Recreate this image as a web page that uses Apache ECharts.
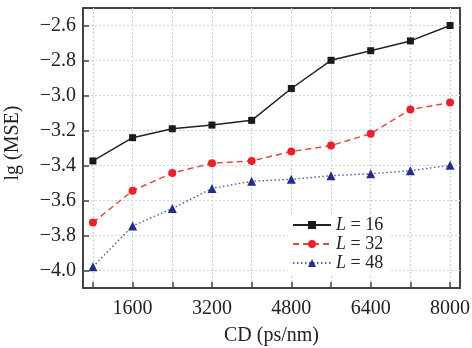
<!DOCTYPE html>
<html>
<head>
<meta charset="utf-8">
<script src="https://cdn.jsdelivr.net/npm/echarts@6/dist/echarts.min.js"></script>
<style>html,body{margin:0;padding:0;background:#fff}#c{width:472px;height:348px}</style>
</head>
<body>
<div id="c"></div>
<script>
const cd = [800, 1600, 2400, 3200, 4000, 4800, 5600, 6400, 7200, 8000];
const xTicks = [800, 1600, 2400, 3200, 4000, 4800, 5600, 6400, 7200, 8000];
const xLabels = [1600, 3200, 4800, 6400, 8000];
const yTicks = [-4.0, -3.8, -3.6, -3.4, -3.2, -3.0, -2.8, -2.6];
const L16 = [-3.374, -3.241, -3.19, -3.169, -3.142, -2.96, -2.799, -2.744, -2.688, -2.600];
const L32 = [-3.726, -3.544, -3.443, -3.387, -3.374, -3.32, -3.286, -3.218, -3.08, -3.04];
const L48 = [-3.979, -3.745, -3.646, -3.531, -3.49, -3.479, -3.458, -3.447, -3.43, -3.399];
const names = ['L = 16', 'L = 32', 'L = 48'];

const FONT = 'Liberation Serif';
const pair = (ys) => cd.map((x, i) => [x, ys[i]]);
const gridLine = { show: true, lineStyle: { color: '#cfd0ea', type: [2, 2], width: 1 } };

const chart = echarts.init(document.getElementById('c'), null, { renderer: 'canvas' });
chart.setOption({
  animation: false,
  backgroundColor: '#fff',
  grid: { left: 83, top: 8, right: 12, bottom: 60, outerBoundsMode: 'none', containLabel: false,
    show: true, borderColor: '#444', borderWidth: 2 },
  xAxis: {
    type: 'value', min: 600, max: 8200,
    name: 'CD (ps/nm)', nameLocation: 'middle', nameGap: 38,
    nameTextStyle: { fontFamily: FONT, fontSize: 20, color: '#222' },
    axisLine: { show: true, lineStyle: { color: '#444', width: 2 } },
    axisTick: { show: true, inside: true, length: 6, customValues: xTicks, lineStyle: { color: '#444', width: 1.5 } },
    axisLabel: { customValues: xLabels, fontFamily: FONT, fontSize: 20, color: '#222', margin: 11,
      formatter: v => String(v) },
    splitLine: Object.assign({ customValues: xTicks }, gridLine)
  },
  yAxis: {
    type: 'value', min: -4.1, max: -2.5,
    name: 'lg (MSE)', nameLocation: 'middle', nameGap: 60,
    nameTextStyle: { fontFamily: FONT, fontSize: 20, color: '#222', padding: [0, 0, 0, 10] },
    axisLine: { show: true, lineStyle: { color: '#444', width: 2 } },
    axisTick: { show: true, inside: true, length: 6, customValues: yTicks, lineStyle: { color: '#444', width: 1.5 } },
    axisLabel: { customValues: yTicks, fontFamily: FONT, fontSize: 20, color: '#222', margin: 7,
      formatter: v => (v < 0 ? '\u2212' : '') + Math.abs(v).toFixed(1) },
    splitLine: Object.assign({ customValues: yTicks }, gridLine)
  },
  legend: {
    left: 288, top: 214, orient: 'vertical',
    backgroundColor: '#fff', padding: [2, 6, 2, 4],
    itemWidth: 38, itemHeight: 10, itemGap: 1,
    data: names,
    formatter: n => '{i|L}' + n.slice(1),
    textStyle: { fontFamily: FONT, fontSize: 18, lineHeight: 17, color: '#222',
      rich: { i: { fontFamily: FONT, fontStyle: 'italic', fontSize: 18, lineHeight: 17, color: '#222' } } }
  },
  series: [
    { name: names[0], type: 'line', data: pair(L16), symbol: 'rect', symbolSize: 7,
      itemStyle: { color: '#1a1a1a' }, lineStyle: { color: '#222', width: 1.5 } },
    { name: names[1], type: 'line', data: pair(L32), symbol: 'circle', symbolSize: 8,
      itemStyle: { color: '#e8222a' }, lineStyle: { color: '#e04848', width: 1.5, type: [6, 4] } },
    { name: names[2], type: 'line', data: pair(L48), symbol: 'triangle', symbolSize: 9,
      itemStyle: { color: '#262a8a' }, lineStyle: { color: '#5a5eb0', width: 1.5, type: [1.5, 2.5] } }
  ]
});
</script>
</body>
</html>
